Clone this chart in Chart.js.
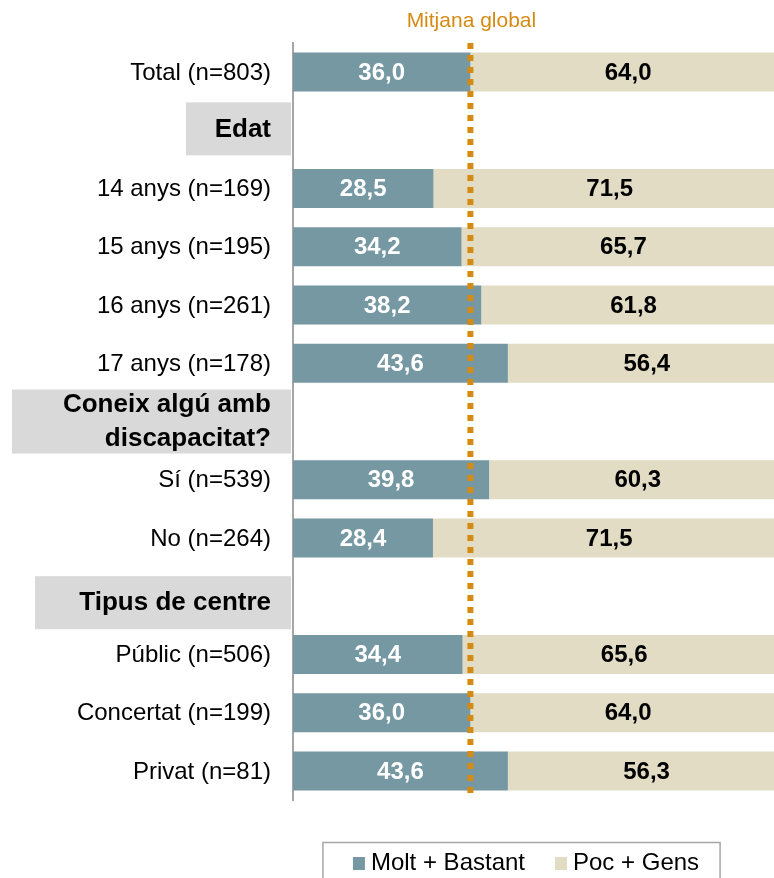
<!DOCTYPE html>
<html>
<head>
<meta charset="utf-8">
<script src="https://cdn.jsdelivr.net/npm/chart.js@4/dist/chart.umd.min.js"></script>
<style>
  html, body { margin: 0; padding: 0; background: #fff; overflow: hidden; }
  #wrap { width: 774px; height: 878px; position: relative; }
</style>
</head>
<body>
<div id="wrap"><canvas id="chart"></canvas></div>
<script>
const categories = [
  'Total (n=803)', 'Edat',
  '14 anys (n=169)', '15 anys (n=195)', '16 anys (n=261)', '17 anys (n=178)',
  ['Coneix algú amb', 'discapacitat?'],
  'Sí (n=539)', 'No (n=264)',
  'Tipus de centre',
  'Públic (n=506)', 'Concertat (n=199)', 'Privat (n=81)'
];
const moltBastant = [36.0, null, 28.5, 34.2, 38.2, 43.6, null, 39.8, 28.4, null, 34.4, 36.0, 43.6];
const pocGens = [64.0, null, 71.5, 65.7, 61.8, 56.4, null, 60.3, 71.5, null, 65.6, 64.0, 56.3];
const seriesNames = ['Molt + Bastant', 'Poc + Gens'];
const sectionRows = [1, 6, 9];
const globalMean = 36.0;

const FONT = '"Liberation Sans", Arial, sans-serif';
const TEAL = '#7598a3';
const BEIGE = '#e2dcc5';
const ORANGE = '#d58a12';

// grey boxes behind the section headings (offsets from row centre)
const sectionBoxes = {
  1: { left: 186, top: -28, bottom: 25, dy: -1 },
  6: { left: 12, top: -32, bottom: 32, dy: 0 },
  9: { left: 35, top: -20, bottom: 33, dy: 7 }
};

const fmt = v => v.toFixed(1).replace('.', ',');

const rowLabels = {
  id: 'rowLabels',
  beforeDatasetsDraw(chart) {
    const { ctx } = chart;
    const y = chart.scales.y;
    ctx.save();
    ctx.textAlign = 'right';
    ctx.textBaseline = 'middle';
    categories.forEach((cat, i) => {
      const cy = y.getPixelForValue(i);
      if (sectionRows.includes(i)) {
        const b = sectionBoxes[i];
        ctx.fillStyle = '#d9d9d9';
        ctx.fillRect(b.left, cy + b.top, 291 - b.left, b.bottom - b.top);
        ctx.fillStyle = '#000';
        ctx.font = 'bold 26px ' + FONT;
        const lines = Array.isArray(cat) ? cat : [cat];
        const lh = 34;
        lines.forEach((ln, k) => {
          ctx.fillText(ln, 271, cy + b.dy + (k - (lines.length - 1) / 2) * lh);
        });
      } else {
        ctx.fillStyle = '#000';
        ctx.font = '24px ' + FONT;
        ctx.fillText(cat, 271, cy + 1);
      }
    });
    ctx.restore();
  }
};

const valueLabels = {
  id: 'valueLabels',
  afterDatasetsDraw(chart) {
    const { ctx } = chart;
    ctx.save();
    ctx.textAlign = 'center';
    ctx.textBaseline = 'middle';
    ctx.font = 'bold 24px ' + FONT;
    chart.data.datasets.forEach((ds, di) => {
      const meta = chart.getDatasetMeta(di);
      meta.data.forEach((bar, i) => {
        const v = ds.data[i];
        if (v == null) return;
        ctx.fillStyle = di === 0 ? '#fff' : '#000';
        ctx.fillText(fmt(v), (bar.x + bar.base) / 2, bar.y + 1);
      });
    });
    ctx.restore();
  }
};

const meanLine = {
  id: 'meanLine',
  afterDatasetsDraw(chart) {
    const { ctx, chartArea } = chart;
    const x = chart.scales.x.getPixelForValue(globalMean);
    ctx.save();
    ctx.strokeStyle = ORANGE;
    ctx.lineWidth = 6;
    ctx.setLineDash([6, 6]);
    ctx.beginPath();
    ctx.moveTo(x, chartArea.top);
    ctx.lineTo(x, chartArea.bottom - 4);
    ctx.stroke();
    ctx.setLineDash([]);
    ctx.fillStyle = ORANGE;
    ctx.font = '21px ' + FONT;
    ctx.textAlign = 'center';
    ctx.textBaseline = 'middle';
    ctx.fillText('Mitjana global', x + 1, 21);
    ctx.restore();
  }
};

// legend with a frame, drawn under the plot
const boxLegend = {
  id: 'boxLegend',
  afterDraw(chart) {
    const { ctx } = chart;
    const ds = chart.data.datasets;
    ctx.save();
    ctx.font = '24px ' + FONT;
    const widths = ds.map(d => ctx.measureText(d.label).width);
    const total = widths.reduce((a, w) => a + w + 18, 0) + 30 * (ds.length - 1);
    let x = 526 - total / 2;
    const cy = 863;
    ctx.strokeStyle = '#a6a6a6';
    ctx.lineWidth = 1.5;
    ctx.strokeRect(x - 30, 842.5, total + 51, 60);
    ctx.textAlign = 'left';
    ctx.textBaseline = 'middle';
    ds.forEach((d, i) => {
      ctx.fillStyle = d.backgroundColor;
      ctx.fillRect(x, cy - 6, 12, 13);
      ctx.fillStyle = '#000';
      ctx.fillText(d.label, x + 18, cy);
      x += 18 + widths[i] + 30;
    });
    ctx.restore();
  }
};

new Chart(document.getElementById('chart'), {
  type: 'bar',
  data: {
    labels: categories,
    datasets: [
      { label: seriesNames[0], data: moltBastant, backgroundColor: TEAL },
      { label: seriesNames[1], data: pocGens, backgroundColor: BEIGE }
    ]
  },
  options: {
    indexAxis: 'y',
    responsive: true,
    maintainAspectRatio: false,
    animation: false,
    datasets: { bar: { barPercentage: 0.67, categoryPercentage: 1 } },
    layout: { padding: { top: 43, right: 0, left: 0, bottom: 0 } },
    scales: {
      x: {
        stacked: true,
        min: 0,
        max: 97.6,
        grid: { display: false },
        border: { display: false },
        ticks: { display: false },
        afterFit: s => { s.height = 78; }
      },
      y: {
        stacked: true,
        grid: { display: false, drawTicks: false },
        border: { color: '#a6a6a6', width: 2 },
        ticks: { display: false },
        afterFit: s => { s.width = 293; }
      }
    },
    plugins: {
      legend: { display: false },
      tooltip: { enabled: false }
    }
  },
  plugins: [rowLabels, valueLabels, meanLine, boxLegend]
});
</script>
</body>
</html>
